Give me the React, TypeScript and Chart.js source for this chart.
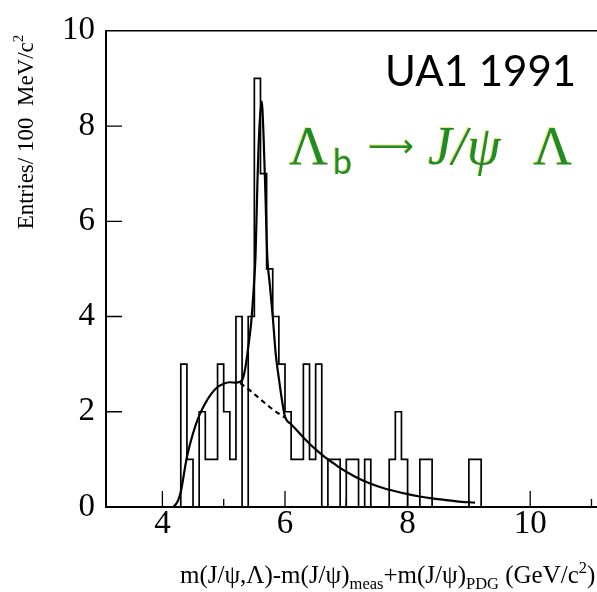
import React, { useEffect, useRef } from "react";
import { Chart, registerables } from "chart.js";
Chart.register(...registerables);

// Histogram: lower bin edges (GeV/c^2) and entries per 100 MeV/c^2
const binLow = [
  4.3, 4.4, 4.5, 4.6, 4.7, 4.8, 4.9, 5.0, 5.1, 5.2, 5.3, 5.4, 5.5, 5.6, 5.7, 5.8, 5.9,
  6.0, 6.1, 6.2, 6.3, 6.4, 6.5, 6.6, 6.7, 6.8, 6.9, 7.0, 7.1, 7.2, 7.3, 7.4, 7.5, 7.6,
  7.7, 7.8, 7.9, 8.0, 8.1, 8.2, 8.3, 8.4, 8.5, 8.6, 8.7, 8.8, 8.9, 9.0, 9.1,
];
const counts = [
  3, 1, 0, 2, 1, 1, 3, 2, 1, 4, 0, 4, 9, 7, 5, 4, 3,
  2, 1, 1, 3, 1, 3, 0, 1, 1, 0, 1, 1, 0, 1, 0, 0, 0,
  1, 2, 1, 0, 0, 1, 1, 0, 0, 0, 0, 0, 0, 1, 1,
];
const binWidth = 0.1;

// Fit curve (signal + background)
const fitX = [
  4.18, 4.25, 4.3, 4.4, 4.5, 4.6, 4.7, 4.8, 4.9, 5.0, 5.1, 5.2, 5.3, 5.35, 5.4, 5.45,
  5.49, 5.52, 5.55, 5.58, 5.62, 5.65, 5.68, 5.71, 5.75, 5.8, 5.85, 5.9, 5.95, 6.0,
  6.1, 6.2, 6.3, 6.4, 6.5, 6.6, 6.7, 6.8, 6.9, 7.0, 7.2, 7.4, 7.6, 7.8, 8.0, 8.2,
  8.4, 8.6, 8.8, 9.1,
];
const fitY = [
  0, 0.12, 0.32, 1.05, 1.55, 1.92, 2.18, 2.38, 2.52, 2.59, 2.62, 2.61, 2.66, 2.9, 3.35, 3.9,
  4.6, 5.3, 6.8, 7.9, 8.52, 7.8, 6.6, 5.3, 4.7, 4.0, 3.2, 2.7, 2.25, 1.9,
  1.74, 1.6, 1.46, 1.33, 1.21, 1.1, 1.0, 0.91, 0.82, 0.74, 0.6, 0.49, 0.4, 0.33, 0.27, 0.22,
  0.18, 0.15, 0.12, 0.09,
];
// Background-only continuation under the peak (dashed)
const bgX = [5.27, 5.4, 5.5, 5.62, 5.75, 5.9, 6.0];
const bgY = [2.6, 2.48, 2.37, 2.24, 2.1, 1.96, 1.88];

const xTickLabels = [4, 6, 8, 10];
const xMinorTicks = [3, 5, 7, 9, 11];
const yTickLabels = [0, 2, 4, 6, 8, 10];

const X_MIN = 3.08;
const X_MAX = 11.09;

const SERIF = "'Liberation Serif', 'Times New Roman', serif";
const SANS = "Lato, 'Open Sans', sans-serif";

type Part = { t: string; font: string; dy?: number };
function drawRich(ctx: CanvasRenderingContext2D, parts: Part[], x: number, y: number) {
  let cx = x;
  for (const p of parts) {
    ctx.font = p.font;
    ctx.fillText(p.t, cx, y + (p.dy || 0));
    cx += ctx.measureText(p.t).width;
  }
}
function richWidth(ctx: CanvasRenderingContext2D, parts: Part[]) {
  let w = 0;
  for (const p of parts) {
    ctx.font = p.font;
    w += ctx.measureText(p.t).width;
  }
  return w;
}

const decorPlugin = {
  id: "decor",
  afterDraw(chart: any) {
    const { ctx, chartArea } = chart;
    const xs = chart.scales.x;
    const ys = chart.scales.y;
    ctx.save();
    ctx.strokeStyle = "#000";
    ctx.lineWidth = 1.6;
    // top frame
    ctx.beginPath();
    ctx.moveTo(chartArea.left, chartArea.top);
    ctx.lineTo(chartArea.right, chartArea.top);
    ctx.stroke();
    // inward ticks
    ctx.lineWidth = 1.3;
    ctx.beginPath();
    for (const v of yTickLabels) {
      if (v === 0 || v === 10) continue;
      const py = ys.getPixelForValue(v);
      ctx.moveTo(chartArea.left, py);
      ctx.lineTo(chartArea.left + 16, py);
    }
    for (const v of xTickLabels) {
      const px = xs.getPixelForValue(v);
      ctx.moveTo(px, chartArea.bottom);
      ctx.lineTo(px, chartArea.bottom - 16);
    }
    for (const v of xMinorTicks) {
      if (v < X_MIN || v > X_MAX) continue;
      const px = xs.getPixelForValue(v);
      ctx.moveTo(px, chartArea.bottom);
      ctx.lineTo(px, chartArea.bottom - 8);
    }
    ctx.stroke();

    // y axis title
    ctx.fillStyle = "#000";
    ctx.textBaseline = "alphabetic";
    ctx.save();
    ctx.translate(33, 132);
    ctx.rotate(-Math.PI / 2);
    const yParts: Part[] = [
      { t: "Entries/ 100  MeV/c", font: `23px ${SERIF}` },
      { t: "2", font: `15px ${SERIF}`, dy: -10 },
    ];
    drawRich(ctx, yParts, -richWidth(ctx, yParts) / 2, 0);
    ctx.restore();

    // x axis title
    const main = `25px ${SERIF}`;
    const sub = `16.5px ${SERIF}`;
    drawRich(
      ctx,
      [
        { t: "m(J/\u03c8,\u039b)-m(J/\u03c8)", font: main },
        { t: "meas", font: sub, dy: 6 },
        { t: "+m(J/\u03c8)", font: main },
        { t: "PDG", font: sub, dy: 6 },
        { t: " (GeV/c", font: main },
        { t: "2", font: sub, dy: -10 },
        { t: ")", font: main },
      ],
      180,
      583
    );

    // annotations
    ctx.fillStyle = "#000";
    ctx.font = `42px ${SANS}`;
    ctx.fillText("UA1 1991", 385, 86);

    const green = "#1f8c24";
    const drawGreen = (t: string, font: string, x: number, y: number) => {
      ctx.font = font;
      ctx.fillStyle = "rgba(230,200,40,0.55)";
      ctx.fillText(t, x - 1, y - 1);
      ctx.fillStyle = green;
      ctx.fillText(t, x, y);
    };
    drawGreen("\u039b", `54px ${SERIF}`, 289, 164);
    drawGreen("b", `34px ${SANS}`, 333, 174);
    drawGreen("\u27f6", `32px 'DejaVu Sans', sans-serif`, 368, 157);
    drawGreen("J/\u03c8", `italic 54px ${SERIF}`, 428, 164);
    drawGreen("\u039b", `54px ${SERIF}`, 533, 164);
    ctx.restore();
  },
};

export default function App() {
  const ref = useRef<HTMLCanvasElement | null>(null);
  useEffect(() => {
    if (!ref.current) return;
    const histPts: { x: number; y: number }[] = [{ x: binLow[0], y: 0 }];
    binLow.forEach((x, i) => histPts.push({ x, y: counts[i] }));
    histPts.push({ x: binLow[binLow.length - 1] + binWidth, y: 0 });

    const chart = new Chart(ref.current, {
      type: "line",
      data: {
        datasets: [
          {
            data: histPts,
            stepped: "before",
            borderColor: "#000",
            borderWidth: 1.7,
            pointRadius: 0,
            fill: false,
          },
          {
            data: fitX.map((x, i) => ({ x, y: fitY[i] })),
            borderColor: "#000",
            borderWidth: 2.2,
            pointRadius: 0,
            cubicInterpolationMode: "monotone",
            fill: false,
          },
          {
            data: bgX.map((x, i) => ({ x, y: bgY[i] })),
            borderColor: "#000",
            borderWidth: 2.2,
            borderDash: [5, 4],
            pointRadius: 0,
            cubicInterpolationMode: "monotone",
            fill: false,
          },
        ],
      } as any,
      options: {
        animation: false,
        responsive: false,
        layout: { padding: { top: 21, left: 0, right: 0, bottom: 0 } },
        plugins: { legend: { display: false }, tooltip: { enabled: false } },
        scales: {
          x: {
            type: "linear",
            min: X_MIN,
            max: X_MAX,
            afterFit: (s: any) => {
              s.height = 85;
            },
            afterBuildTicks: (s: any) => {
              s.ticks = xTickLabels.map((v) => ({ value: v }));
            },
            grid: { display: false, drawTicks: false },
            border: { display: true, color: "#000", width: 2 },
            ticks: {
              padding: -2,
              color: "#000",
              font: { family: SERIF, size: 33 },
              maxRotation: 0,
            },
          },
          y: {
            type: "linear",
            min: 0,
            max: 10,
            afterFit: (s: any) => {
              s.width = 106;
            },
            afterBuildTicks: (s: any) => {
              s.ticks = yTickLabels.map((v) => ({ value: v }));
            },
            grid: { display: false, drawTicks: false },
            border: { display: true, color: "#000", width: 2 },
            ticks: {
              padding: 11,
              color: "#000",
              font: { family: SERIF, size: 33 },
            },
          },
        },
      } as any,
      plugins: [decorPlugin],
    });
    return () => chart.destroy();
  }, []);
  return (
    <div style={{ position: "absolute", left: 0, top: 0, width: 597, height: 592, background: "#fff" }}>
      <canvas ref={ref} width={597} height={592} style={{ width: 597, height: 592, display: "block" }} />
    </div>
  );
}
